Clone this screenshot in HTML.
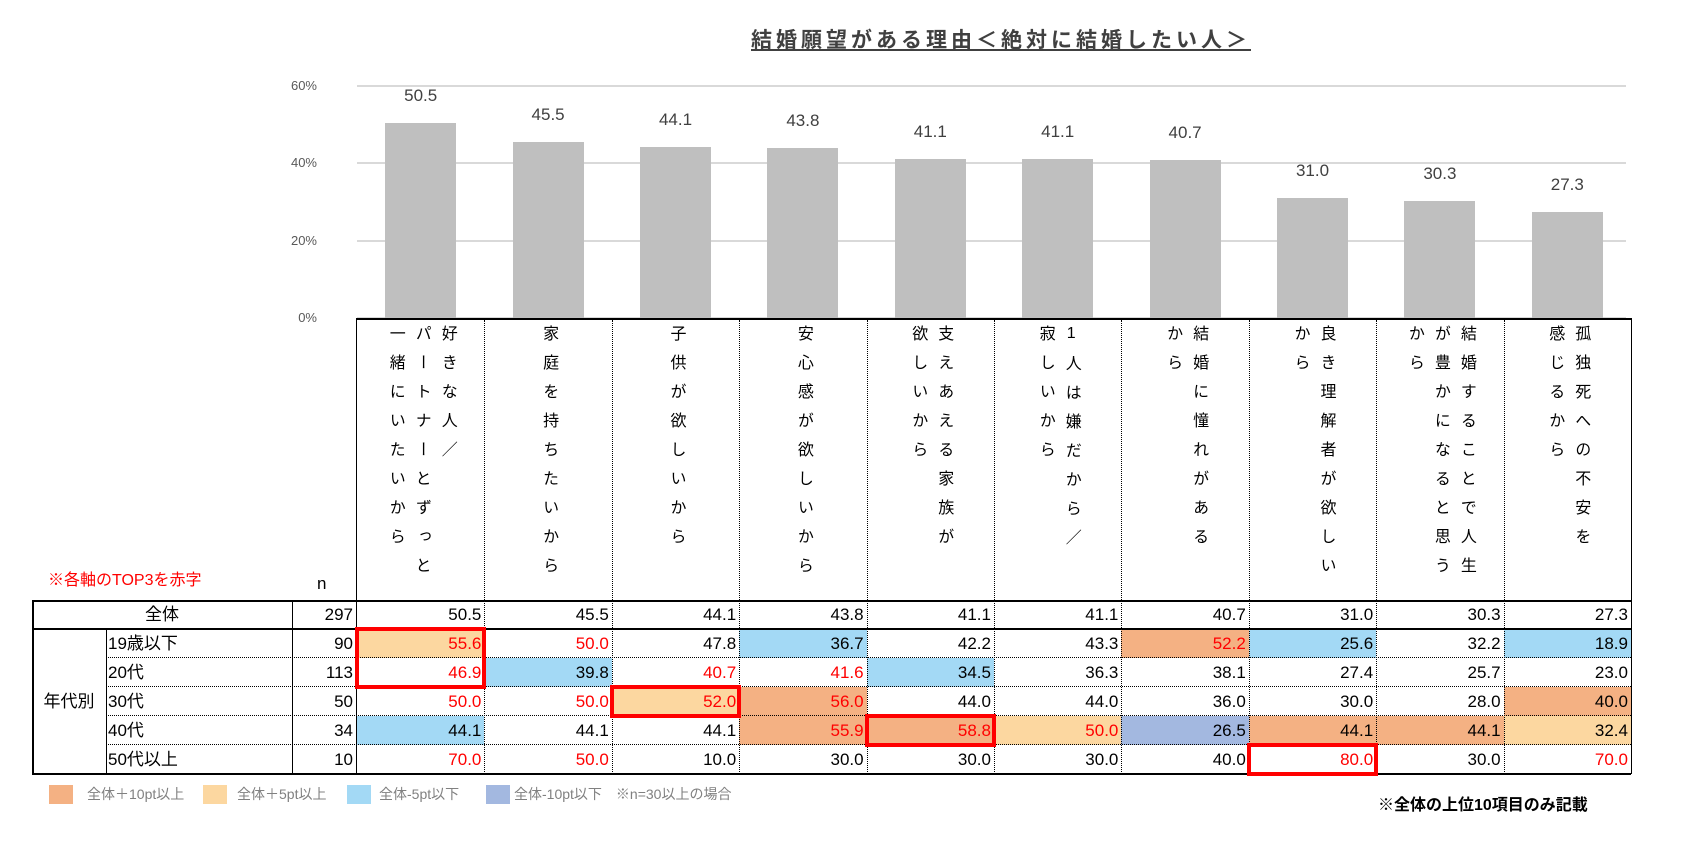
<!DOCTYPE html>
<html><head><meta charset="utf-8">
<style>
body{margin:0;background:#fff;width:1695px;height:844px;position:relative;overflow:hidden;font-family:"Liberation Sans","Noto Sans CJK JP",sans-serif;}
.abs{position:absolute;}
.grid{position:absolute;height:2px;background:#d9d9d9;}
.ytick{position:absolute;font-size:13px;color:#595959;width:40px;text-align:right;}
.bar{position:absolute;background:#bfbfbf;}
.val{position:absolute;font-size:17px;color:#404040;text-align:center;width:80px;}
.hdr{position:absolute;top:320px;height:280px;display:flex;justify-content:center;}
.vt{writing-mode:vertical-rl;text-orientation:upright;font-size:16px;letter-spacing:13px;line-height:26px;color:#000;padding-top:5px;}
.cell{position:absolute;height:29px;font-size:17px;line-height:29px;text-align:right;box-sizing:border-box;padding-right:3px;}
.hl{position:absolute;height:0;}
.vl{position:absolute;width:0;}
.box{position:absolute;border:4px solid #ff0000;box-sizing:border-box;}
.lg{position:absolute;top:785px;width:24px;height:19px;}
.lgt{position:absolute;top:784px;font-size:14px;color:#808080;}
</style></head><body>
<div class="abs" style="left:751px;top:24px;width:440px;text-align:center;font-size:21px;font-weight:bold;color:#404040;letter-spacing:4px;text-decoration:underline;white-space:nowrap;">結婚願望がある理由＜絶対に結婚したい人＞</div>
<div id="chart"></div>
<div class="abs" style="left:48px;top:566px;font-size:16px;color:#ff0000;">※各軸のTOP3を赤字</div>
<div class="abs" style="left:317px;top:574px;font-size:17px;">n</div>
<div id="table"></div>
<div class="lg" style="left:49px;background:#f4b183;"></div>
<div class="lgt" style="left:87px;">全体＋10pt以上</div>
<div class="lg" style="left:203px;background:#fcd7a0;"></div>
<div class="lgt" style="left:237px;">全体＋5pt以上</div>
<div class="lg" style="left:347px;background:#a3d9f5;"></div>
<div class="lgt" style="left:379px;">全体-5pt以下</div>
<div class="lg" style="left:486px;background:#a3b8e0;"></div>
<div class="lgt" style="left:514px;">全体-10pt以下　※n=30以上の場合</div>
<div class="abs" style="left:1378px;top:791px;font-size:16px;font-weight:bold;color:#000;">※全体の上位10項目のみ記載</div>
<script>
const categories=[["好きな人／","パートナーとずっと","一緒にいたいから"],["家庭を持ちたいから"],["子供が欲しいから"],["安心感が欲しいから"],["支えあえる家族が","欲しいから"],["1人は嫌だから／","寂しいから"],["結婚に憧れがある","から"],["良き理解者が欲しい","から"],["結婚することで人生","が豊かになると思う","から"],["孤独死への不安を","感じるから"]];
const overall=[50.5,45.5,44.1,43.8,41.1,41.1,40.7,31.0,30.3,27.3];
const yTicks=[0,20,40,60];
const rowLabels=["19歳以下","20代","30代","40代","50代以上"];
const rowN=[90,113,50,34,10];
const overallN=297;
const r19=[55.6,50.0,47.8,36.7,42.2,43.3,52.2,25.6,32.2,18.9];
const r20=[46.9,39.8,40.7,41.6,34.5,36.3,38.1,27.4,25.7,23.0];
const r30=[50.0,50.0,52.0,56.0,44.0,44.0,36.0,30.0,28.0,40.0];
const r40=[44.1,44.1,44.1,55.9,58.8,50.0,26.5,44.1,44.1,32.4];
const r50=[70.0,50.0,10.0,30.0,30.0,30.0,40.0,80.0,30.0,70.0];
const fills=["o....s.b.b","  b........".trim().padEnd(10,"."),"..os.....s","b..ssodsso",".........."];
const fill19="o..b..sb.b",fill20=".b..b.....";
const redText=["rr....r...","r.rr......","rrrr......","...rrr....","rr.....r.r"];
const boxes=[[0,0,2],[2,2,1],[4,3,1],[7,4,1]];
const colL=357,colW=127.4,y0=318,pxPer=3.87;
const xc=i=>colL+colW*i+colW/2;
const yv=v=>y0-v*pxPer;
const chart=document.getElementById('chart');
function mk(parent,cls,style,text){const d=document.createElement('div');d.className=cls;d.style.cssText=style;if(text!==undefined)d.textContent=text;parent.appendChild(d);return d;}
yTicks.forEach(t=>{
 const g=mk(chart,'grid',`left:357px;width:1269px;top:${yv(t)-1}px;`);
 
 
 const l=mk(chart,'ytick',`left:277px;top:${yv(t)-8}px;`,t+'%');
 
 
});
overall.forEach((v,i)=>{
 const b=mk(chart,'bar',`left:${xc(i)-35.5}px;width:71px;top:${yv(v)}px;height:${v*pxPer}px;`);
 
 
 const t=mk(chart,'val',`left:${xc(i)-40}px;top:${yv(v)-37}px;`,v.toFixed(1));
 
 
});
const tb=document.getElementById('table');
categories.forEach((c,i)=>{
 const h=mk(tb,'hdr',`left:${colL+colW*i}px;width:${colW}px;`);
 
 
 const v=mk(h,'vt','');
 v.innerHTML=c.join('<br>');
});
function hline(x,w,y,st){const d=mk(tb,'hl',`left:${x}px;width:${w}px;top:${y}px;border-top:${st};`);}
function vline(x,y,h,st){const d=mk(tb,'vl',`left:${x}px;top:${y}px;height:${h}px;border-left:${st};`);}
const R=colL+colW*10;
hline(356,R-356,318,'2px solid #000');
vline(356,318,456,'1.5px solid #000');
vline(R,318,456,'1.5px solid #000');
for(let i=1;i<10;i++)vline(colL+colW*i,320,454,'1px dotted #000');
const rows=[r19,r20,r30,r40,r50];
const fillMap=[fill19,fill20,"..os.....s","b..ssodsso",".........."];
const colors={s:'#f4b183',o:'#fcd7a0',b:'#a3d9f5',d:'#a3b8e0'};
// cell backgrounds
rows.forEach((row,r)=>{
 row.forEach((v,i)=>{
  const f=fillMap[r][i];
  const c=mk(tb,'cell',`left:${colL+colW*i}px;width:${colW}px;top:${629+29*r}px;background:${colors[f]||'transparent'};color:${redText[r][i]==='r'?'#ff0000':'#000'};`,v.toFixed(1));
  
  
 });
 const lb=mk(tb,'cell',`left:106px;width:186px;top:${629+29*r}px;text-align:left;padding-left:2px;`,rowLabels[r]);
 
 
 const n=mk(tb,'cell',`left:292px;width:64px;top:${629+29*r}px;`,String(rowN[r]));
 
 
});
overall.forEach((v,i)=>{
 const c=mk(tb,'cell',`left:${colL+colW*i}px;width:${colW}px;top:600px;`,v.toFixed(1));
 
 
});
const tl=mk(tb,'cell',`left:32px;width:260px;top:600px;text-align:center;padding:0;`,'全体');


const tn=mk(tb,'cell',`left:292px;width:64px;top:600px;`,String(overallN));


const ag=mk(tb,'cell',`left:32px;width:74px;top:629px;height:145px;line-height:145px;text-align:center;padding:0;`,'年代別');


// rules
for(let i=1;i<10;i++)vline(colL+colW*i,600,174,'1px dotted #000');
hline(32,R-32,600,'2px solid #000');
hline(32,R-32,628,'2px solid #000');
for(let r=1;r<5;r++)hline(106,R-106,628+29*r,'1px dotted #000');
hline(32,R-32,773,'2px solid #000');
vline(32,600,174,'2px solid #000');
vline(106,629,145,'1px solid #000');
vline(292,600,174,'1px solid #000');
boxes.forEach(([c,r,h])=>{
 const b=mk(tb,'box',`left:${colL+colW*c-2}px;top:${627+29*r}px;width:${colW+4}px;height:${29*h+4}px;`);
 
 
});
</script>
</body></html>
